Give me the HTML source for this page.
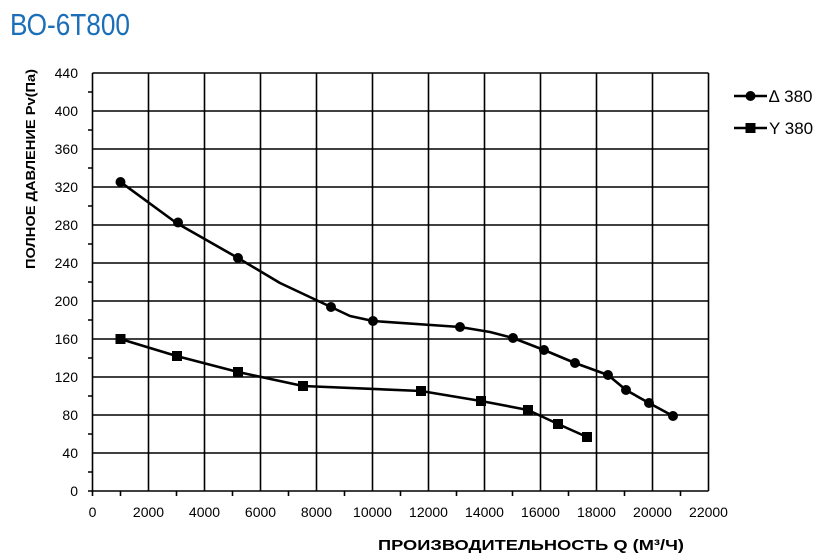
<!DOCTYPE html>
<html><head><meta charset="utf-8"><style>
body{margin:0;background:#fff;}
svg{display:block;font-family:"Liberation Sans",sans-serif;}
</style></head><body>
<svg width="835" height="556" viewBox="0 0 835 556" xmlns="http://www.w3.org/2000/svg">
<text x="10" y="35" font-size="31" fill="#1a6fb8" font-family="Liberation Sans Narrow, Liberation Sans, sans-serif" textLength="120" lengthAdjust="spacingAndGlyphs">ВО-6Т800</text>
<g stroke="#000" stroke-width="1.6">
<path d="M92.5 73V491M148.5 73V491M204.5 73V491M260.5 73V491M316.5 73V491M372.5 73V491M428.5 73V491M484.5 73V491M540.5 73V491M596.5 73V491M652.5 73V491M708.5 73V491"/>
<path d="M92.5 73H708.5M92.5 111H708.5M92.5 149H708.5M92.5 187H708.5M92.5 225H708.5M92.5 263H708.5M92.5 301H708.5M92.5 339H708.5M92.5 377H708.5M92.5 415H708.5M92.5 453H708.5M92.5 491H708.5"/>
<path d="M88 92H93M88 130H93M88 168H93M88 206H93M88 244H93M88 282H93M88 320H93M88 358H93M88 396H93M88 434H93M88 472H93M88 491H93"/>
<path d="M120.5 491V496M176.5 491V496M232.5 491V496M288.5 491V496M344.5 491V496M400.5 491V496M456.5 491V496M512.5 491V496M568.5 491V496M624.5 491V496M680.5 491V496M92.5 491V496"/>
</g>
<g stroke="#000" stroke-width="2.6" fill="none" stroke-linejoin="round">
<polyline points="120.5,182 176.5,223 238,258 280,283 331,307 350,316 373,321 460,327 490,332 513,338 544,350 575,363 608,375 626,390 649,403 673,416"/>
<polyline points="120.5,339 176.5,356 238,372 303,386 421,391 481,401 528,410 558,424 587,437"/>
</g>
<g fill="#000">
<circle cx="120.5" cy="182" r="5"/><circle cx="178" cy="222.5" r="5"/><circle cx="238" cy="258" r="5"/><circle cx="331" cy="307" r="5"/><circle cx="373" cy="321" r="5"/><circle cx="460" cy="327" r="5"/><circle cx="513" cy="338" r="5"/><circle cx="544" cy="350" r="5"/><circle cx="575" cy="363" r="5"/><circle cx="608" cy="375" r="5"/><circle cx="626" cy="390" r="5"/><circle cx="649" cy="403" r="5"/><circle cx="673" cy="416" r="5"/>
<rect x="115.5" y="334" width="10" height="10"/><rect x="172" y="351" width="10" height="10"/><rect x="233" y="367" width="10" height="10"/><rect x="298" y="381" width="10" height="10"/><rect x="416" y="386" width="10" height="10"/><rect x="476" y="396" width="10" height="10"/><rect x="523" y="405" width="10" height="10"/><rect x="553" y="419" width="10" height="10"/><rect x="582" y="432" width="10" height="10"/>
</g>
<g font-size="14" text-anchor="end" fill="#000">
<text x="78" y="78">440</text><text x="78" y="116">400</text><text x="78" y="154">360</text><text x="78" y="192">320</text><text x="78" y="230">280</text><text x="78" y="268">240</text><text x="78" y="306">200</text><text x="78" y="344">160</text><text x="78" y="382">120</text><text x="78" y="420">80</text><text x="78" y="458">40</text><text x="78" y="496">0</text>
</g>
<g font-size="14" text-anchor="middle" fill="#000">
<text x="92.5" y="517">0</text><text x="148.5" y="517">2000</text><text x="204.5" y="517">4000</text><text x="260.5" y="517">6000</text><text x="316.5" y="517">8000</text><text x="372.5" y="517">10000</text><text x="428.5" y="517">12000</text><text x="484.5" y="517">14000</text><text x="540.5" y="517">16000</text><text x="596.5" y="517">18000</text><text x="652.5" y="517">20000</text><text x="708.5" y="517">22000</text>
</g>
<text x="531" y="550" font-size="15" font-weight="bold" text-anchor="middle" textLength="306" lengthAdjust="spacingAndGlyphs">ПРОИЗВОДИТЕЛЬНОСТЬ  Q  (М³/Ч)</text>
<text transform="translate(35,169) rotate(-90)" font-size="13" font-weight="bold" text-anchor="middle" textLength="200" lengthAdjust="spacingAndGlyphs">ПОЛНОЕ ДАВЛЕНИЕ   Pv(Па)</text>
<g stroke="#000" stroke-width="2.6"><path d="M734 96H767M734 128H767"/></g>
<circle cx="750.5" cy="96" r="5"/><rect x="745.5" y="123" width="10" height="10"/>
<text x="769" y="102" font-size="17">∆ 380</text>
<text x="769" y="134" font-size="17">Y 380</text>
</svg>
</body></html>
